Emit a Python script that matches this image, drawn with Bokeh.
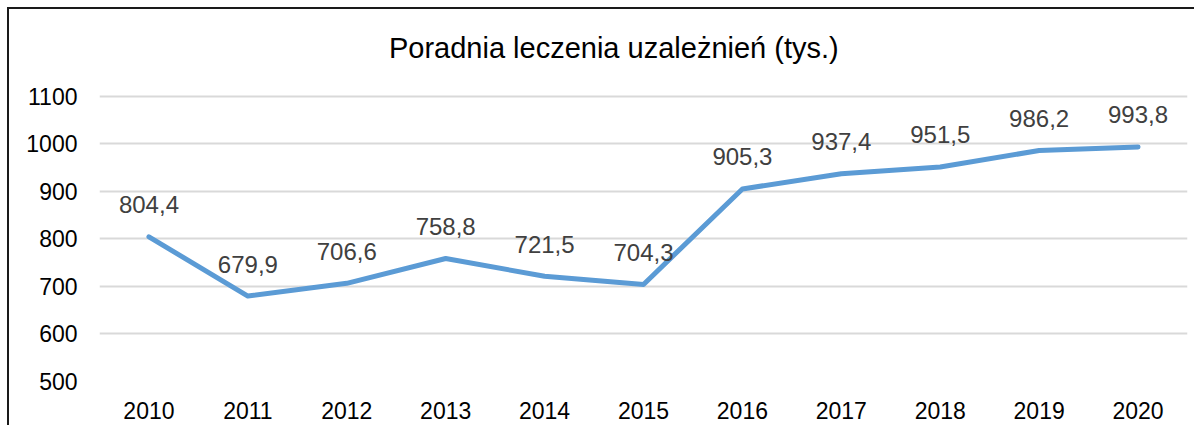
from bokeh.plotting import figure
from bokeh.models import FactorRange, Range1d, FixedTicker, ColumnDataSource, Label
from bokeh.core.properties import value
from bokeh.embed import file_html
from bokeh.resources import INLINE

years = ["2010", "2011", "2012", "2013", "2014", "2015", "2016", "2017", "2018", "2019", "2020"]
values = [804.4, 679.9, 706.6, 758.8, 721.5, 704.3, 905.3, 937.4, 951.5, 986.2, 993.8]
labels = ["804,4", "679,9", "706,6", "758,8", "721,5", "704,3", "905,3", "937,4", "951,5", "986,2", "993,8"]
y_ticks = [500, 600, 700, 800, 900, 1000, 1100]
title_text = "Poradnia leczenia uzależnień (tys.)"

FONT = "Liberation Sans"

src = ColumnDataSource(dict(x=years, y=values, lab=labels))

# the frame extends above the top gridline to leave room for the title inside it
p = figure(width=1187, height=418, output_backend="svg", toolbar_location=None,
           x_range=FactorRange(*years, range_padding=0), y_range=Range1d(500, 1283),
           min_border_left=90, min_border_right=9, min_border_top=0, min_border_bottom=46)

p.outline_line_color = None
p.background_fill_color = "white"
p.border_fill_color = "white"
p.styles = {"border-top": "2px solid #1a1a1a", "border-left": "2px solid #1a1a1a",
            "margin-left": "7px", "margin-top": "7px"}

title = Label(x=5.2, y=1203, text=title_text, text_font=FONT,
              text_font_size="29px", text_color="#000000", text_align="center",
              text_baseline="middle")
p.add_layout(title)

p.line("x", "y", source=src, line_color="#5B9BD5", line_width=5, line_join="round", line_cap="round")
p.text("x", "y", text="lab", source=src, text_font=value(FONT), text_font_size="24px",
       text_color="#404040", text_align="center", text_baseline="alphabetic", y_offset=-32)

p.yaxis.ticker = FixedTicker(ticks=y_ticks)
for ax in (p.xaxis, p.yaxis):
    ax.axis_line_color = None
    ax.major_tick_line_color = None
    ax.minor_tick_line_color = None
    ax.major_label_text_font = FONT
    ax.major_label_text_font_size = "23px"
    ax.major_label_text_color = "#000000"
p.yaxis.major_label_standoff = 16
p.xaxis.major_label_standoff = 14

p.xgrid.grid_line_color = None
p.ygrid.grid_line_color = "#d9d9d9"
p.ygrid.grid_line_width = 2

open("out.html", "w").write(file_html(p, INLINE))
